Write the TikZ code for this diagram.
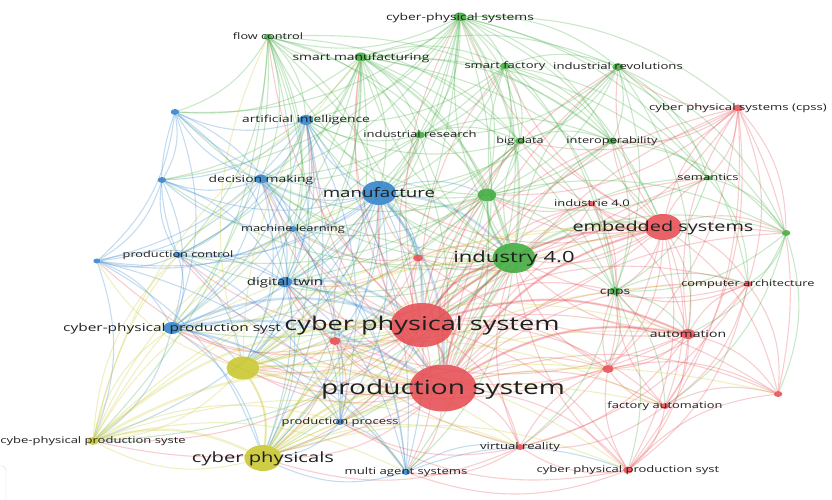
\documentclass[tikz,border=0pt]{standalone}
\usepackage{fontspec}
\setmainfont{Open Sans}[FakeStretch=1.43]
\usepackage{xcolor}
\usepackage{tikz}
\usetikzlibrary{shapes.geometric}
\pgfdeclarelayer{background}
\pgfsetlayers{background,main}
\definecolor{vred}{RGB}{230,76,82}
\definecolor{vgreen}{RGB}{62,170,60}
\definecolor{vblue}{RGB}{48,130,202}
\definecolor{vyellow}{RGB}{200,198,44}

\begin{document}
\begin{tikzpicture}[x=1pt,y=-1pt]
        \tikzset{bubble/.style={draw=none, shape=ellipse, inner sep=0pt, fill=#1, fill opacity=0.88},
        lbl/.style={text=black!88, inner sep=0pt, anchor=base},
        link/.style={draw=#1, draw opacity=0.28, line width=1.1pt},
        strong/.style={draw=#1, draw opacity=0.25, line width=2.4pt},
        }
        \useasboundingbox (0,0) rectangle (832,500);

%% bubbles: name/x/y/half height/colour
        \foreach \nm/\xx/\yy/\rr/\col in {
            cpsys/460/17/4.5/vgreen, flow/268/37/3/vgreen, smfg/361/57/4.5/vgreen,
            sfac/505/66/3.5/vgreen, irev/618/67/4/vgreen, ires/420/135/3.5/vgreen,
            bigd/520/141/3.5/vgreen, inter/612/141/3.5/vgreen, sem/708/178/2.5/vgreen,
            gA/487/195/6.5/vgreen, gB/786/233/3/vgreen, i40/514/258/15/vgreen, cpps/615/291/4/vgreen,
            cps/422/325/22/vred, ps/443/388/23.5/vred, emb/663/227/13/vred, ind40r/592/204/2.5/vred,
            cpss/738/108/3.5/vred, carch/748/284/3/vred, auto/688/334/5/vred, rA/608/369/4/vred,
            rB/778/394/3/vred, fauto/665/406/3/vred, vr/520/447/3/vred, cpps2/628/470/3.5/vred,
            rC/418/258/3.5/vred, rD/335/341/4/vred,
            mfr/379/193/12/vblue, ai/306/120/5/vblue, dm/261/179/4.5/vblue, ml/293/229/3/vblue,
            pc/178/255/3/vblue, bA/175/112/3/vblue, bB/162/180/3/vblue, bC/97/261/2.5/vblue,
            dt/285/282/5/vblue, cpprod/172/328/6/vblue, pp/340/422/3/vblue, mas/406/472/3/vblue,
            yA/243/368/11.5/vyellow, cpps3/93/441/4/vyellow, cphy/263/458/13/vyellow}
            \node[bubble=\col, minimum height=2*\rr, minimum width=2.86*\rr] (\nm) at (\xx,\yy) {};

%% links
        \begin{pgfonlayer}{background}
        \foreach \src/\lst in {
            cps/{ps,emb,i40,mfr,auto,carch,cpss,fauto,vr,cpps2,rA,rB,rC,rD,ind40r,cpps,dt,ml,dm,ai,pc,cpprod,yA,cphy,cpps3,pp,mas,bigd,inter,sem,gA,ires,smfg,sfac,irev,cpsys,flow,gB},
            ps/{emb,i40,mfr,auto,carch,cpss,fauto,vr,cpps2,rA,rB,rC,rD,ind40r,cpps,dt,cpprod,yA,cphy,cpps3,pp,mas,gA,bigd,sem,gB,inter,irev,smfg,ai,dm,bC,pc},
            emb/{auto,carch,cpss,fauto,vr,cpps2,rA,rB,ind40r,cpps,sem,gB,inter,irev,i40,gA,rC,rD,bigd,mfr,cpsys,sfac},
            auto/{carch,cpss,fauto,rA,rB,cpps2,vr,cpps,i40,rC,rD,yA},
            cpss/{carch,rB,cpps2,fauto,rA,i40,gA,irev,sem,gB,inter,bigd},
            carch/{rB,fauto,cpps2,rA,vr,i40,cpps},
            fauto/{rB,cpps2,rA,vr,cpps},
            cpps2/{vr,rA,rB,mas,pp,i40},
            vr/{rA,mas,pp,cphy,dt,i40},
            rA/{rB,cpps,i40,rD},
            rC/{rD,i40,mfr,gA,dt,ml},
            rD/{yA,cpprod,dt,pp,cphy,mfr},
            ind40r/{i40,gA,cpps,auto,rA}}
            \foreach \dst in \lst
                \draw[link=vred] (\src) to[bend left=20] (\dst);
        \foreach \src/\lst in {
            i40/{gA,cpsys,flow,smfg,sfac,irev,ires,bigd,inter,sem,gB,cpps,mfr,ai,dm,ml,dt,yA,cphy,cpprod,pc,bA,bB,pp,mas,cpps3,rC,rD},
            cpsys/{flow,smfg,sfac,irev,ires,bigd,inter,gA,mfr,ai,dm,ml,dt,cpps,sem,gB,cpss,emb,ps,bA,bB,yA,cphy},
            smfg/{flow,sfac,irev,ires,bigd,inter,gA,mfr,ai,dm,ml,dt,cpps,ps,emb,yA,cphy,sem,bB,pc,bA,cpprod},
            flow/{ires,bigd,gA,mfr,ai,dm,ml,dt,ps,cpprod,pc,yA,cphy,bA,cpps3,inter},
            sfac/{irev,ires,bigd,inter,gA,cpps,mfr,ps,emb,sem,ai,dm},
            irev/{ires,bigd,inter,sem,gA,cpps,gB,mfr,auto,carch},
            ires/{bigd,inter,gA,mfr,ai,dm,ml,dt},
            bigd/{inter,gA,cpps,mfr,ml,dt,ai},
            inter/{sem,gA,cpps,gB,mfr},
            sem/{gB,cpps,gA,carch},
            gA/{cpps,gB,mfr,dm,ai,ml,dt,pc,cpprod,yA,cphy,mas,pp},
            gB/{cpps,carch,auto,fauto,rB},
            cpps/{auto,carch,fauto,rA,vr,cpps2}}
            \foreach \dst in \lst
                \draw[link=vgreen] (\src) to[bend left=20] (\dst);
        \foreach \src/\lst in {
            mfr/{ai,dm,ml,pc,bA,bB,bC,dt,cpprod,pp,mas,yA,cphy,cpps3,rC,rD,gA},
            ai/{dm,ml,pc,bA,bB,bC,dt,cpprod,pp,mas,yA,cphy},
            dm/{ml,pc,bA,bB,bC,dt,cpprod,pp,mas,yA,cphy},
            ml/{pc,bB,bC,dt,cpprod,pp,mas},
            pc/{bA,bB,bC,dt,cpprod,pp,yA},
            bA/{bB,bC,dt,cpprod,ml},
            bB/{bC,dt,cpprod},
            bC/{cpprod,dt,cphy,cpps3,mas},
            dt/{cpprod,pp,mas,yA,cphy},
            cpprod/{pp,mas,yA,cphy,cpps3},
            pp/{mas,cphy},
            mas/{cphy,vr,cpps2}}
            \foreach \dst in \lst
                \draw[link=vblue] (\src) to[bend left=20] (\dst);
        \foreach \src/\lst in {
            yA/{cphy,cpps3,pp,mas,emb,auto,vr,cpps2,fauto,i40,rA,bC,flow,smfg},
            cphy/{cpps3,cpps2,emb,fauto,auto,vr,rA,rB,i40,carch},
            cpps3/{pp,pc,ml,dm,mas,vr,dt,cpprod,i40,emb,mfr,ai}}
            \foreach \dst in \lst
                \draw[link=vyellow] (\src) to[bend left=20] (\dst);
        %% heavier links
        \foreach \src/\dst/\col in {cps/ps/vred, ps/emb/vred, cps/emb/vred, cps/i40/vred, ps/i40/vred,
            mfr/cps/vblue, mfr/ps/vblue, cphy/ps/vyellow, cphy/cps/vyellow, yA/ps/vyellow, yA/cps/vyellow,
            i40/gA/vgreen, i40/emb/vgreen, mfr/i40/vblue, cpprod/cps/vblue, cpprod/ps/vblue, cpps3/ps/vyellow,
            cpps3/cps/vyellow, smfg/i40/vgreen, cpsys/i40/vgreen, dt/ps/vblue, dt/cps/vblue,
            cpps3/cphy/vyellow, yA/cphy/vyellow, ps/auto/vred, cps/auto/vred}
            \draw[strong=\col] (\src) to[bend left=20] (\dst);
        \end{pgfonlayer}

%% labels: name/text/size
        \foreach \nm/\txt/\sz in {
            cps/cyber physical system/19, ps/production system/19.6, emb/embedded systems/13.9,
            i40/industry 4.0/15.4, mfr/manufacture/13.1, cphy/cyber physicals/14.1,
            cpprod/cyber-physical production syst/10.8, dt/digital twin/10.5,
            cpsys/cyber-physical systems/9.7, flow/flow control/8.9, smfg/smart manufacturing/9.7,
            sfac/smart factory/9.1, irev/industrial revolutions/9.2, ires/industrial research/9.15,
            bigd/big data/8.8, inter/interoperability/8.95, sem/semantics/9.1, ind40r/industrie 4.0/9.1,
            cpss/cyber physical systems (cpss)/9.2, carch/computer architecture/8.95, auto/automation/9.8,
            fauto/factory automation/9, vr/virtual reality/9.2, cpps2/cyber physical production syst/9.1,
            cpps/cpps/9.7, ai/artificial intelligence/9.65, dm/decision making/9.7, ml/machine learning/9,
            pc/production control/8.9, pp/production process/9.1, mas/multi agent systems/9.2,
            cpps3/cybe-physical production syste/9.1}
            \node[lbl, font=\fontsize{\sz}{\sz}\selectfont, yshift={-0.31*\sz}] (\nm-l) at (\nm) {\txt};

        \draw[black!15, rounded corners=4pt] (-10,466) -| (6,510);
\end{tikzpicture}
\end{document}
